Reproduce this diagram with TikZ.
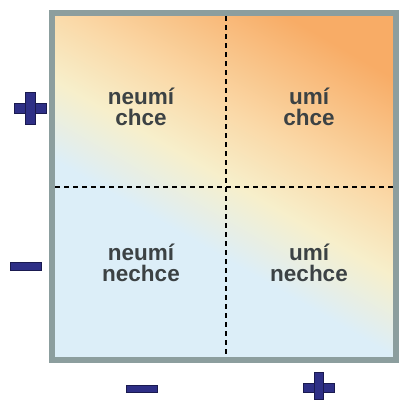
\documentclass[tikz,border=0pt]{standalone}
\usepackage{fontspec}
\setmainfont{Liberation Sans}
\definecolor{qblue}{HTML}{DCEEF8}
\definecolor{qyellow}{HTML}{F7EFCB}
\definecolor{qpeach}{HTML}{FAD9A8}
\definecolor{qorange}{HTML}{F8AC66}
\definecolor{frame}{HTML}{8C9E9E}
\definecolor{label}{HTML}{3C4244}
\definecolor{signfill}{HTML}{2E2F86}
\definecolor{signline}{HTML}{1A1A50}
\pgfdeclareverticalshading{quadbg}{100bp}{%
  color(0bp)=(qblue); color(41bp)=(qblue); color(51bp)=(qyellow);
  color(60bp)=(qpeach); color(76bp)=(qorange); color(100bp)=(qorange)}
\tikzset{
  quadtext/.style={font=\bfseries\fontsize{22.5}{21.5}\selectfont, text=label,
    align=center, inner sep=0pt},
  divider/.style={black, line width=1.2pt, dash pattern=on 5pt off 4pt},
  sign/.style={fill=signfill, draw=signline, line width=0.8pt}
}
\begin{document}
\begin{tikzpicture}[x=1pt,y=-1pt]
  \useasboundingbox (0,0) rectangle (401,399);
  % coloured field
  \shade[shading=quadbg, shading angle=-30] (52,13) rectangle (396,360);
  % dashed dividers
  \draw[divider] (226,16) -- (226,357);
  \draw[divider] (55,187) -- (393,187);
  % frame
  \draw[frame, line width=6pt] (52,13) rectangle (396,360);
  % quadrant labels
  \node[quadtext] (nc) at (141,107) {neumí\\chce};
  \node[quadtext] (uc) at (309,107) {umí\\chce};
  \node[quadtext] (nn) at (141,263) {neumí\\nechce};
  \node[quadtext] (un) at (309,263) {umí\\nechce};
  % axis signs
  \path[sign] (14,103) rectangle (46,113);
  \path[sign] (25,92) rectangle (35,124);
  \path[sign] (10,262) rectangle (41,270);
  \path[sign] (126,385) rectangle (157,392);
  \path[sign] (303,383) rectangle (334,392);
  \path[sign] (314,372) rectangle (323,399);
\end{tikzpicture}
\end{document}
